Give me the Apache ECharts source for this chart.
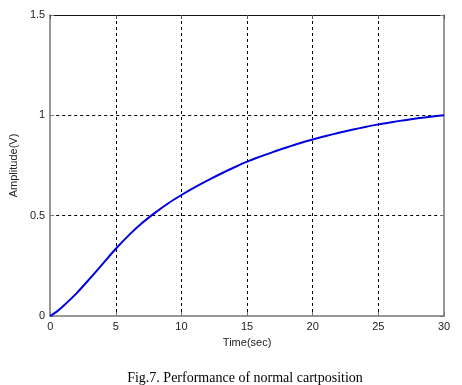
<!DOCTYPE html>
<html>
<head>
<meta charset="utf-8">
<script src="https://cdn.jsdelivr.net/npm/echarts@6/dist/echarts.min.js"></script>
<style>html,body{margin:0;padding:0;background:#fff}#c{width:462px;height:385px}</style>
</head>
<body>
<div id="c"></div>
<script>
const timeSec = [0,0.5,1,2,3,4,5,6,7,8,9,10,11,12,13,14,15,16,17,18,19,20,21,22,23,24,25,26,27,28,29,30];
const amplitude = [0,0.022,0.05,0.113,0.185,0.26,0.335,0.403,0.463,0.515,0.562,0.603,0.641,0.676,0.709,0.74,0.769,0.794,0.818,0.84,0.861,0.88,0.897,0.913,0.928,0.942,0.955,0.966,0.976,0.985,0.993,1.0];
const xTicks = [0,5,10,15,20,25,30];
const yTicks = [0,0.5,1,1.5];
const caption = 'Fig.7. Performance of normal cartposition';

const chart = echarts.init(document.getElementById('c'), null, {renderer:'canvas'});
const data = timeSec.map((t,i)=>[t,amplitude[i]]);
const labelStyle = {color:'#222', fontFamily:'Liberation Sans, Arial, sans-serif', fontSize:11};
const frameLine = {show:true, onZero:false, lineStyle:{color:'#777', width:1.5}};
chart.setOption({
  animation:false,
  backgroundColor:'#fff',
  title:{text:caption, left:240, top:366, textAlign:'center',
    textStyle:{fontFamily:'Liberation Serif, Times New Roman, serif', fontWeight:'normal', fontSize:14, color:'#000'}},
  grid:{left:48, right:18, top:15, bottom:69, show:false},
  xAxis:[{type:'value', min:xTicks[0], max:xTicks[xTicks.length-1], interval:5,
    name:'Time(sec)', nameLocation:'middle', nameGap:21,
    nameTextStyle:labelStyle,
    axisLine:frameLine,
    axisTick:{show:true, inside:true, length:4, lineStyle:{color:'#777'}},
    axisLabel:{...labelStyle, margin:5, formatter:v=>xTicks.includes(v)?String(v):''},
    splitLine:{show:true, showMinLine:false, showMaxLine:false, lineStyle:{color:'#000', type:[3,3], width:1}}},
    {type:'value', position:'top', min:xTicks[0], max:xTicks[xTicks.length-1], interval:5,
    axisLine:{show:true, onZero:false, lineStyle:{color:'#111', width:1.2}},
    axisTick:{show:true, inside:true, length:4, lineStyle:{color:'#555'}},
    axisLabel:{show:false}, splitLine:{show:false}}],
  yAxis:[{type:'value', min:yTicks[0], max:yTicks[yTicks.length-1], interval:0.5,
    name:'Amplitude(V)', nameLocation:'middle', nameGap:30,
    nameTextStyle:labelStyle,
    axisLine:frameLine,
    axisTick:{show:true, inside:true, length:4, lineStyle:{color:'#777'}},
    axisLabel:{...labelStyle, margin:5, formatter:v=>String(v)},
    splitLine:{show:true, showMinLine:false, showMaxLine:false, lineStyle:{color:'#000', type:[3,3], width:1}}},
    {type:'value', position:'right', min:yTicks[0], max:yTicks[yTicks.length-1], interval:0.5,
    axisLine:frameLine,
    axisTick:{show:true, inside:true, length:4, lineStyle:{color:'#777'}},
    axisLabel:{show:false}, splitLine:{show:false}}],
  series:[{type:'line', data:data, smooth:0.3, showSymbol:false,
    lineStyle:{color:'#0000e0', width:2}}]
});
</script>
</body>
</html>
